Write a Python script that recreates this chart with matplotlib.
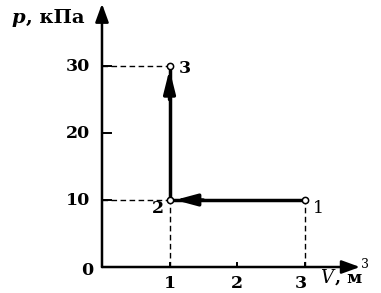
import matplotlib.pyplot as plt

# states of the gas: V (m^3), p (kPa)
state_names = ['1', '2', '3']
V = [3, 1, 1]
p = [10, 10, 30]
x_ticks = [1, 2, 3]
y_ticks = [10, 20, 30]

fig = plt.figure(figsize=(3.81, 2.93), dpi=100)
ax = fig.add_axes([0.2677, 0.0887, 0.6824, 0.8918])
ax.set_xlim(0, 3.85)
ax.set_ylim(0, 39)
for s in ax.spines.values():
    s.set_visible(False)
ax.set_xticks([])
ax.set_yticks([])

font = dict(family='DejaVu Serif', weight='bold', size=12.5)

# coordinate axes with arrows
ax.annotate('', xy=(3.82, 0), xytext=(0, 0),
            arrowprops=dict(arrowstyle='-|>,head_length=1.1,head_width=0.4',
                            lw=1.8, color='black', shrinkA=0, shrinkB=0),
            annotation_clip=False)
ax.annotate('', xy=(0, 39.3), xytext=(0, 0),
            arrowprops=dict(arrowstyle='-|>,head_length=1.1,head_width=0.4',
                            lw=1.8, color='black', shrinkA=0, shrinkB=0),
            annotation_clip=False)

# ticks
for t in y_ticks:
    ax.plot([0, 0.13], [t, t], color='black', lw=1.4)
    ax.text(-0.17, t, str(t), ha='right', va='center', **font)
for t in x_ticks:
    ax.plot([t, t], [-0.5, 0.6], color='black', lw=1.4)
    ax.text(t - (0.06 if t == 3 else 0), -1.2, str(t), ha='center', va='top', **font)
ax.text(-0.22, -0.5, '0', ha='center', va='center', **font)

# dashed guide lines
dash = dict(color='black', lw=1.0, ls=(0, (4, 2.5)))
ax.plot([0, V[2]], [p[2], p[2]], **dash)
ax.plot([0, V[1]], [p[1], p[1]], **dash)
ax.plot([V[1], V[1]], [0, p[1]], **dash)
ax.plot([V[0], V[0]], [0, p[0]], **dash)

# process 1 -> 2 -> 3
ax.plot([V[0], V[1]], [p[0], p[1]], color='black', lw=2.5, solid_capstyle='butt')
ax.plot([V[1], V[2]], [p[1], p[2]], color='black', lw=2.5, solid_capstyle='butt')
ax.annotate('', xy=(V[1] + 0.08, p[1]), xytext=(V[1] + 0.5, p[1]),
            arrowprops=dict(arrowstyle='-|>,head_length=1.3,head_width=0.35',
                            lw=2.5, color='black', shrinkA=0, shrinkB=0))
ax.annotate('', xy=(V[2], p[2] - 0.5), xytext=(V[2], p[2] - 5),
            arrowprops=dict(arrowstyle='-|>,head_length=1.4,head_width=0.35',
                            lw=2.5, color='black', shrinkA=0, shrinkB=0))
ax.plot(V, p, 'o', ms=4.5, mfc='white', mec='black', mew=1.1, zorder=5)

# state labels
ax.text(V[0] + 0.12, p[0] - 1.2, state_names[0], ha='left', va='center',
        family='DejaVu Serif', size=12.5)
ax.text(V[1] - 0.08, p[1] - 1.3, state_names[1], ha='right', va='center', **font)
ax.text(V[2] + 0.13, p[2] - 0.4, state_names[2], ha='left', va='center', **font)

# axis labels
fig.text(0.03, 0.937, 'p', ha='left', va='center', family='DejaVu Serif',
         style='italic', weight='bold', size=14)
fig.text(0.068, 0.937, ', кПа', ha='left', va='center', family='DejaVu Serif',
         weight='bold', size=14)
fig.text(0.84, 0.052, 'V', ha='left', va='center', family='DejaVu Serif',
         style='italic', size=13)
fig.text(0.88, 0.052, ', м', ha='left', va='center', **font)
fig.text(0.947, 0.098, '3', ha='left', va='center', family='DejaVu Serif', size=9)

fig.savefig('out.png', dpi=100)
